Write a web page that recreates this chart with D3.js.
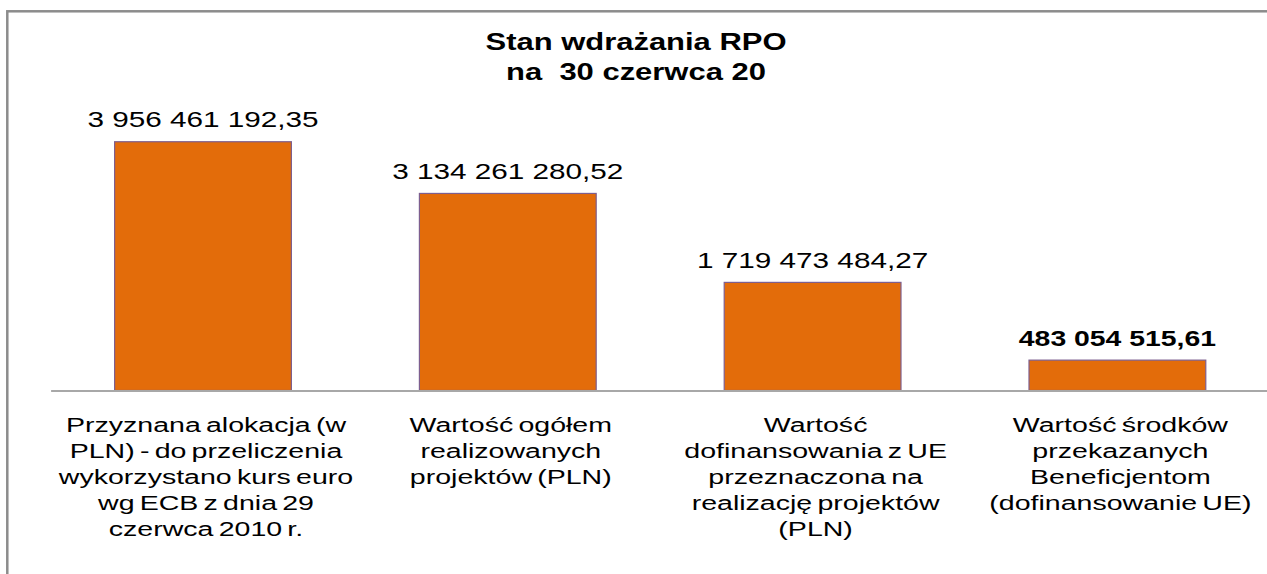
<!DOCTYPE html>
<html>
<head>
<meta charset="utf-8">
<script src="https://cdn.jsdelivr.net/npm/d3@7"></script>
<style>
  body { margin: 0; background: #fff; }
  text { font-family: "Liberation Sans", Arial, sans-serif; fill: #000; white-space: pre; }
</style>
</head>
<body>
<script>
// dane z wykresu
var titleLines = ['Stan wdrażania RPO', 'na  30 czerwca 20'];
var categories = [
  ['Przyznana alokacja (w', 'PLN) - do przeliczenia', 'wykorzystano kurs euro', 'wg ECB z dnia 29', 'czerwca 2010 r.'],
  ['Wartość ogółem', 'realizowanych', 'projektów (PLN)'],
  ['Wartość', 'dofinansowania z UE', 'przeznaczona na', 'realizację projektów', '(PLN)'],
  ['Wartość środków', 'przekazanych', 'Beneficjentom', '(dofinansowanie UE)']
];
var values = [3956461192.35, 3134261280.52, 1719473484.27, 483054515.61];
var boldLabel = [false, false, false, true];

var width = 1267, height = 574;

var pl = d3.formatLocale({decimal: ',', thousands: ' ', grouping: [3], currency: ['', ' zł']});
var fmt = pl.format(',.2f');

var svg = d3.select('body').append('svg')
  .attr('width', width)
  .attr('height', height);

// ramka
svg.append('rect')
  .attr('x', 7.3)
  .attr('y', 11.3)
  .attr('width', 1400)
  .attr('height', 700)
  .attr('fill', 'none')
  .attr('stroke', '#8c8c8c')
  .attr('stroke-width', 2.5);

var x = d3.scaleBand()
  .domain(d3.range(values.length))
  .range([50.6, 1269.8])
  .paddingInner(0.42)
  .paddingOuter(0.21);

var y = d3.scaleLinear()
  .domain([0, 4e9])
  .range([390.5, 139]);

// tytuł (tekst w oryginale jest rozciągnięty poziomo)
svg.selectAll('.title')
  .data(titleLines)
  .enter().append('text')
  .attr('class', 'title')
  .attr('transform', function(d, i) { return 'translate(636,' + (50 + i * 30) + ') scale(1.29,1)'; })
  .attr('text-anchor', 'middle')
  .style('font-size', '24px')
  .style('font-weight', 'bold')
  .text(function(d) { return d; });

// słupki
svg.selectAll('.bar')
  .data(values)
  .enter().append('rect')
  .attr('class', 'bar')
  .attr('x', function(d, i) { return x(i); })
  .attr('y', function(d) { return y(d); })
  .attr('width', x.bandwidth())
  .attr('height', function(d) { return y(0) - y(d); })
  .attr('fill', '#e36c0a')
  .attr('stroke', '#7d5f8f')
  .attr('stroke-width', 1.2);

// oś
var axis = svg.append('g')
  .attr('transform', 'translate(0,' + y(0) + ')')
  .call(d3.axisBottom(x).tickSize(0).tickFormat(''));
axis.select('.domain').attr('stroke', '#a8a8a8').attr('stroke-width', 1.8);

// etykiety wartości
svg.selectAll('.val')
  .data(values)
  .enter().append('text')
  .attr('class', 'val')
  .attr('transform', function(d, i) {
    var s = boldLabel[i] ? 1.29 : 1.35;
    return 'translate(' + (x(i) + x.bandwidth() / 2) + ',' + (y(d) - 14.5) + ') scale(' + s + ',1)';
  })
  .attr('text-anchor', 'middle')
  .style('font-size', '22px')
  .style('font-weight', function(d, i) { return boldLabel[i] ? 'bold' : 'normal'; })
  .text(function(d) { return fmt(d); });

// etykiety kategorii
var cat = svg.selectAll('.cat')
  .data(categories)
  .enter().append('g')
  .attr('class', 'cat')
  .attr('transform', function(d, i) { return 'translate(' + (x(i) + x.bandwidth() / 2 + 3) + ',0)'; });

cat.selectAll('text')
  .data(function(d) { return d; })
  .enter().append('text')
  .attr('transform', function(d, j) { return 'translate(0,' + (432 + j * 26) + ') scale(1.36,1)'; })
  .attr('text-anchor', 'middle')
  .style('font-size', '21px')
  .style('word-spacing', '-2px')
  .text(function(d) { return d; });
</script>
</body>
</html>
